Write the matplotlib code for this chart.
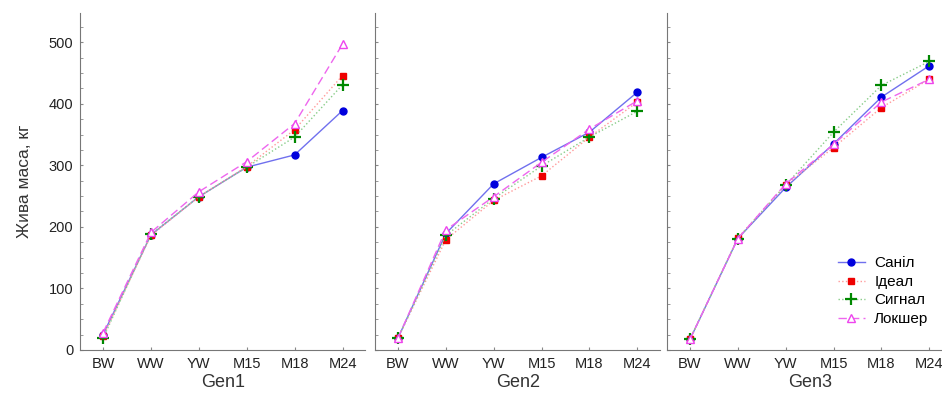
#Live weight of bulls by generation
import numpy as np
import matplotlib.pyplot as plt

plt.rcParams['font.family'] = ['Liberation Sans', 'DejaVu Sans']

#Categories and panels
periods = ['BW', 'WW', 'YW', 'M15', 'M18', 'M24']
gens = ['Gen1', 'Gen2', 'Gen3']
lines = ['Саніл', 'Ідеал', 'Сигнал', 'Локшер']

#Values, one list per line per panel
sanil_g1 = [25, 187, 249, 297, 317, 389]
ideal_g1 = [22, 186, 249, 298, 358, 446]
signal_g1 = [19, 188, 249, 297, 346, 431]
loksher_g1 = [28, 191, 257, 306, 368, 497]

sanil_g2 = [19, 189, 270, 313, 354, 419]
ideal_g2 = [19, 179, 243, 283, 346, 403]
signal_g2 = [19, 186, 246, 299, 346, 388]
loksher_g2 = [19, 195, 249, 305, 359, 405]

sanil_g3 = [17, 181, 264, 335, 411, 462]
ideal_g3 = [17, 182, 268, 329, 394, 440]
signal_g3 = [17, 181, 268, 354, 430, 469]
loksher_g3 = [17, 181, 270, 334, 403, 440]

data = [[sanil_g1, ideal_g1, signal_g1, loksher_g1],
        [sanil_g2, ideal_g2, signal_g2, loksher_g2],
        [sanil_g3, ideal_g3, signal_g3, loksher_g3]]

#styles: line colour, marker colour, linestyle, marker
styles = [dict(color='#7070ee', ls='-', marker='o', mfc='#0000dd', mec='#0000dd', ms=5),
          dict(color='#ff9a9a', ls=':', marker='s', mfc='#ee0000', mec='#ee0000', ms=5),
          dict(color='#88cc88', ls=':', marker='+', mfc='#008800', mec='#008800', ms=8, mew=1.6),
          dict(color='#ee66ee', ls=(0, (6, 3)), marker='^', mfc='white', mec='#ee44ee', ms=6)]

fig = plt.figure(figsize=(9.42, 3.99), dpi=100)
lefts = [0.085, 0.398, 0.708]
x = np.arange(len(periods))

for i in range(3):
    ax = fig.add_axes([lefts[i], 0.123, 0.303, 0.845])
    for j in range(4):
        ax.plot(x, data[i][j], lw=1, label=lines[j], **styles[j])
    ax.set_xlim(-0.48, 5.48)
    ax.set_ylim(0, 548)
    ax.set_xticks(x)
    ax.set_xticklabels(periods, fontsize=10.5, color='#222222')
    ax.set_yticks([0, 100, 200, 300, 400, 500])
    ax.set_yticks(np.arange(0, 548, 25), minor=True)
    ax.tick_params(axis='both', which='both', direction='in', length=2, color='#888888', pad=5)
    ax.tick_params(axis='y', labelsize=10.5, labelcolor='#222222')
    ax.set_xlabel(gens[i], fontsize=13, color='#333333', labelpad=2)
    for s in ['top', 'right']:
        ax.spines[s].set_visible(False)
    for s in ['left', 'bottom']:
        ax.spines[s].set_color('#777777')
    if i == 0:
        ax.set_ylabel('Жива маса, кг', fontsize=12.5, color='#333333', labelpad=12)
    else:
        ax.set_yticklabels([])
    if i == 2:
        ax.legend(loc='lower left', bbox_to_anchor=(0.55, 0.03), frameon=False,
                  fontsize=11, handlelength=1.8, handletextpad=0.6, labelspacing=0.3)

plt.savefig('out.png')
